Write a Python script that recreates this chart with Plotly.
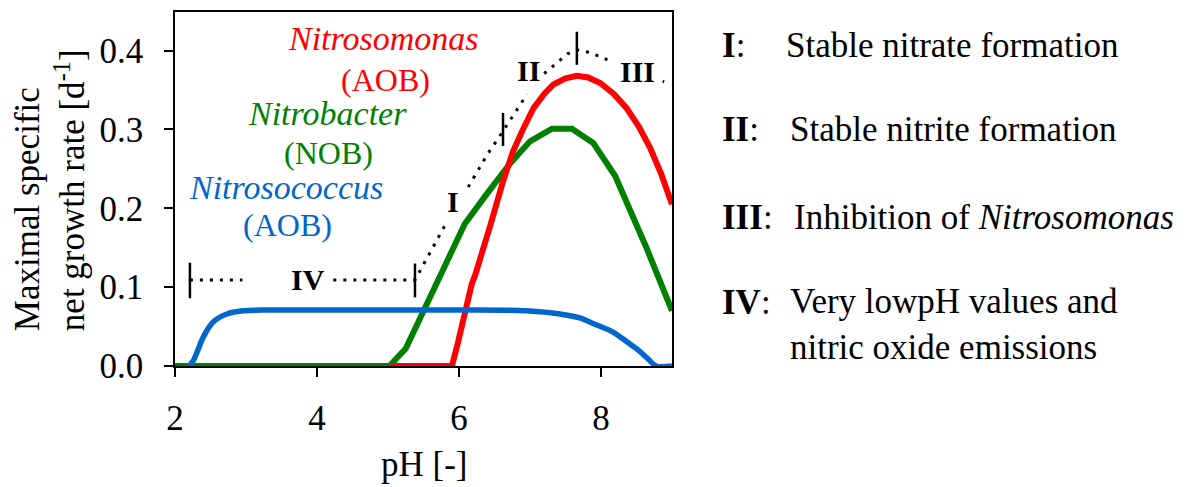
import plotly.graph_objects as go

# pH axis and growth-rate curves
nitrosomonas_ph = [5.02, 5.90, 5.97, 6.06, 6.18, 6.23, 6.34, 6.44, 6.62, 6.76, 6.90, 7.05, 7.20, 7.33, 7.50,
                   7.66, 7.82, 7.99, 8.18, 8.36, 8.53, 8.69, 8.85, 9.00]
nitrosomonas_rate = [0.0, 0.0, 0.024, 0.062, 0.104, 0.116, 0.146, 0.178, 0.234, 0.272, 0.300, 0.327, 0.345,
                     0.357, 0.365, 0.368, 0.366, 0.359, 0.345, 0.327, 0.304, 0.277, 0.243, 0.205]

nitrobacter_ph = [2.00, 5.02, 5.25, 5.90, 6.08, 6.39, 6.72, 7.00, 7.31, 7.59, 7.89, 8.20, 8.64, 9.00]
nitrobacter_rate = [0.0, 0.0, 0.022, 0.148, 0.180, 0.218, 0.257, 0.285, 0.301, 0.301, 0.283, 0.241, 0.150, 0.070]

nitrosococcus_ph = [2.20, 2.26, 2.33, 2.40, 2.54, 2.73, 2.96, 3.30, 4.00, 5.00, 6.00, 6.60, 6.95,
                    7.42, 7.70, 7.89, 8.17, 8.36, 8.50, 8.64, 8.78, 9.00]
nitrosococcus_rate = [0.0, 0.007, 0.022, 0.037, 0.056, 0.066, 0.070, 0.071, 0.071, 0.071, 0.071, 0.0708, 0.070,
                      0.066, 0.061, 0.054, 0.043, 0.031, 0.022, 0.011, 0.0, 0.0]

# dotted envelope separating the regimes (None = gap for region labels)
envelope_ph = [2.21, 2.95, None, 4.23, 5.38, 5.80, None, 6.13, 6.39, 6.62, 6.84, 6.96, None,
               7.20, 7.37, 7.53, 7.66, 7.82, 7.97, 8.12, None, 8.87, 8.89]
envelope_rate = [0.109, 0.109, None, 0.109, 0.109, 0.178, None, 0.227, 0.267, 0.298, 0.328, 0.345, None,
                 0.371, 0.384, 0.396, 0.401, 0.398, 0.393, 0.387, None, 0.361, 0.3605]

# regime boundaries (short vertical bars)
boundary_ph = [2.21, 5.38, 6.62, 7.66]
boundary_low = [0.086, 0.087, 0.279, 0.382]
boundary_high = [0.131, 0.130, 0.321, 0.424]

# region numerals inside the plot
region_labels = ["I", "II", "III", "IV"]
region_ph = [5.92, 6.98, 8.52, 3.87]
region_rate = [0.209, 0.375, 0.373, 0.110]

# legend text on the right
legend_keys = ["I", "II", "III", "IV"]
legend_texts = [
    "Stable nitrate formation",
    "Stable nitrite formation",
    "Inhibition of <i>Nitrosomonas</i>",
    "Very lowpH values and<br>nitric oxide emissions",
]

x_ticks = [2, 4, 6, 8]
y_ticks = [0.0, 0.1, 0.2, 0.3, 0.4]

RED = "#FF0000"
GREEN = "#008000"
BLUE = "#0066CC"
FONT = "Liberation Serif"

fig = go.Figure()

fig.add_trace(go.Scatter(x=nitrobacter_ph, y=nitrobacter_rate, mode="lines",
                         line=dict(color=GREEN, width=6), hoverinfo="skip"))
fig.add_trace(go.Scatter(x=nitrosomonas_ph, y=nitrosomonas_rate, mode="lines",
                         line=dict(color=RED, width=6), hoverinfo="skip"))
fig.add_trace(go.Scatter(x=nitrosococcus_ph, y=nitrosococcus_rate, mode="lines",
                         line=dict(color=BLUE, width=5.5, shape="spline", smoothing=0.8), hoverinfo="skip"))

fig.add_trace(go.Scatter(x=envelope_ph, y=envelope_rate, mode="lines", connectgaps=False,
                         line=dict(color="black", width=3, dash="3px,7px"), hoverinfo="skip"))

bar_x, bar_y = [], []
for p, lo, hi in zip(boundary_ph, boundary_low, boundary_high):
    bar_x += [p, p, None]
    bar_y += [lo, hi, None]
fig.add_trace(go.Scatter(x=bar_x, y=bar_y, mode="lines",
                         line=dict(color="black", width=2.5), hoverinfo="skip"))

annotations = []

# species labels
species = [
    ("<i>Nitrosomonas</i>", 4.94, 0.416, RED, 34),
    ("(AOB)", 4.96, 0.363, RED, 32),
    ("<i>Nitrobacter</i>", 4.15, 0.320, GREEN, 34),
    ("(NOB)", 4.16, 0.270, GREEN, 32),
    ("<i>Nitrosococcus</i>", 3.57, 0.226, BLUE, 34),
    ("(AOB)", 3.59, 0.179, BLUE, 32),
]
for txt, px, py, col, fs in species:
    annotations.append(dict(x=px, y=py, xref="x", yref="y", text=txt, showarrow=False,
                            xanchor="center", yanchor="middle",
                            font=dict(family=FONT, size=fs, color=col)))

for lab, px, py in zip(region_labels, region_ph, region_rate):
    annotations.append(dict(x=px, y=py, xref="x", yref="y", text="<b>%s</b>" % lab, showarrow=False,
                            xanchor="center", yanchor="middle",
                            font=dict(family=FONT, size=30, color="black")))

# right-hand explanation block
PL, PR, PT, PB = 175, 672, 10, 365.7


def px_to_paper_x(px):
    return (px - PL) / (PR - PL)


def px_to_paper_y(py):
    return (PB - py) / (PB - PT)


key_y = [44, 128, 216, 302]
text_x = [784, 788, 792, 788]
for k, t, yy, tx in zip(legend_keys, legend_texts, key_y, text_x):
    annotations.append(dict(x=px_to_paper_x(720), y=px_to_paper_y(yy), xref="paper", yref="paper",
                            text="<b>%s</b>:" % k, showarrow=False, xanchor="left", yanchor="middle",
                            font=dict(family=FONT, size=35, color="black")))
    annotations.append(dict(x=px_to_paper_x(tx), y=px_to_paper_y(yy), xref="paper", yref="paper",
                            text=t, showarrow=False, xanchor="left",
                            yanchor="top" if "<br>" in t else "middle",
                            yshift=23 if "<br>" in t else 0, align="left",
                            font=dict(family=FONT, size=35, color="black")))

# axis titles
annotations.append(dict(x=px_to_paper_x(50), y=px_to_paper_y(189), xref="paper", yref="paper",
                        text="Maximal specific<br>net growth rate [d<sup>-1</sup>]", showarrow=False,
                        textangle=-90, align="left", xanchor="center", yanchor="middle",
                        font=dict(family=FONT, size=35, color="black")))
annotations.append(dict(x=px_to_paper_x(424), y=px_to_paper_y(465), xref="paper", yref="paper",
                        text="pH [-]", showarrow=False, xanchor="center", yanchor="middle",
                        font=dict(family=FONT, size=35, color="black")))

fig.update_layout(
    width=1195, height=487,
    margin=dict(l=PL, r=1195 - PR, t=PT, b=487 - 365.7),
    paper_bgcolor="white", plot_bgcolor="white",
    showlegend=False,
    annotations=annotations,
    font=dict(family=FONT, size=35, color="black"),
)
fig.update_xaxes(range=[2, 9], tickvals=x_ticks, ticks="outside", ticklen=9, tickwidth=1.5,
                 tickcolor="black", showline=True, linecolor="black", linewidth=1.5, mirror=True,
                 showgrid=False, zeroline=False, ticklabelstandoff=11,
                 tickfont=dict(family=FONT, size=35, color="black"))
fig.update_yaxes(range=[0, 0.449], tickvals=y_ticks, tickformat=".1f", ticks="outside", ticklen=9,
                 tickwidth=1.5, tickcolor="black", showline=True, linecolor="black", linewidth=1.5,
                 mirror=True, showgrid=False, zeroline=False, ticklabelstandoff=14,
                 tickfont=dict(family=FONT, size=35, color="black"))

fig.write_html("out.html")
